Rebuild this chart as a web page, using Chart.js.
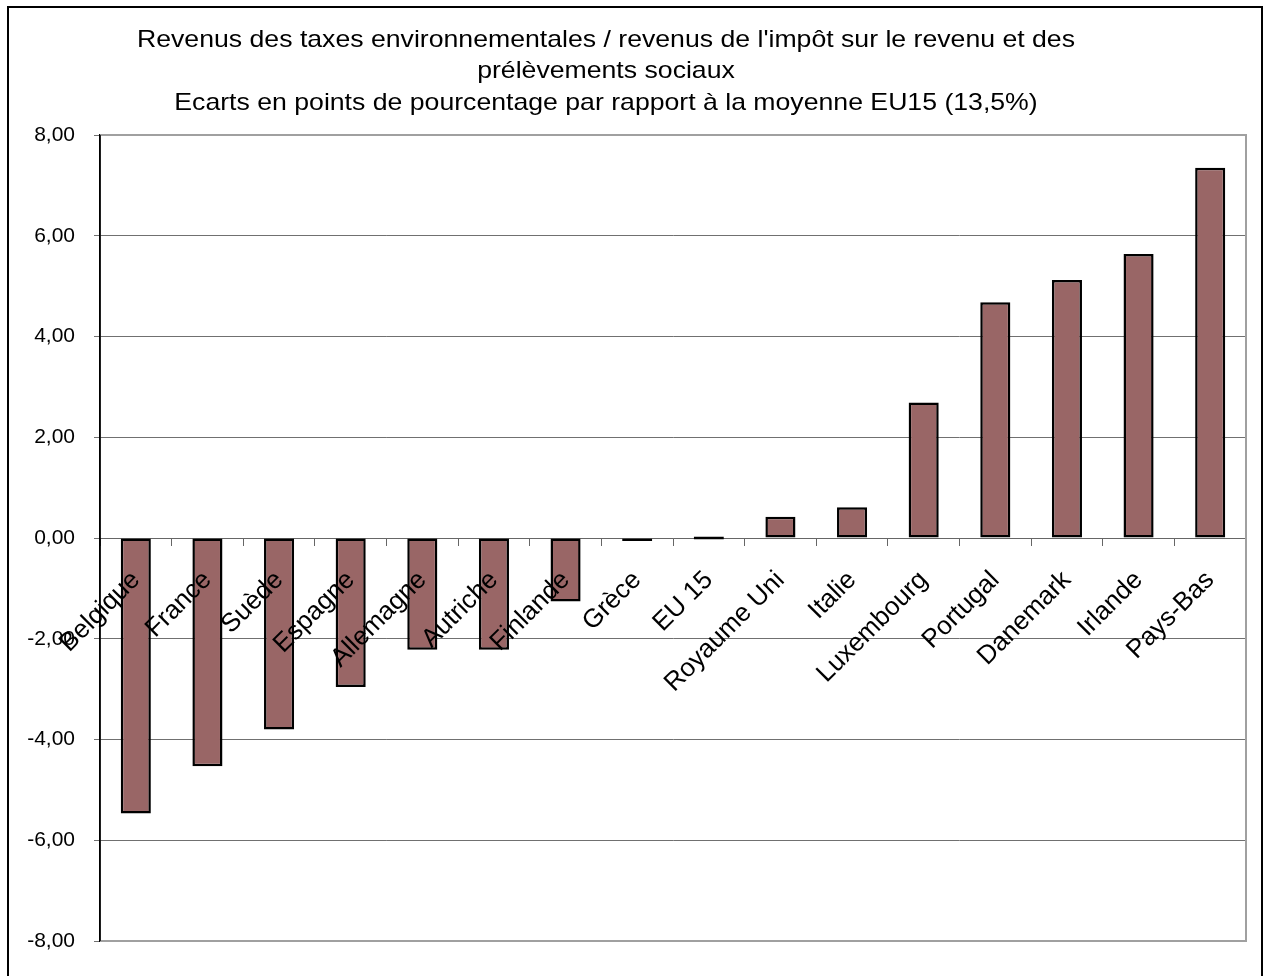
<!DOCTYPE html>
<html>
<head>
<meta charset="utf-8">
<script src="https://cdn.jsdelivr.net/npm/chart.js@4"></script>
<style>
  html, body { margin: 0; padding: 0; background: #fff; }
  #wrap { position: relative; width: 1269px; height: 976px; }
</style>
</head>
<body>
<div id="wrap"><canvas id="chart" width="1269" height="976"></canvas></div>
<script>
// ─── Data ─────────────────────────────────────────────────────────────
const countries = [
  "Belgique", "France", "Suède", "Espagne", "Allemagne", "Autriche", "Finlande", "Grèce",
  "EU 15", "Royaume Uni", "Italie", "Luxembourg", "Portugal", "Danemark", "Irlande", "Pays-Bas",
];
const ecarts = [
  -5.47, -4.53, -3.80, -2.96, -2.22, -2.22, -1.26, -0.04,
  0.00, 0.42, 0.61, 2.69, 4.68, 5.12, 5.64, 7.35,
];
const titleLines = [
  "Revenus des taxes environnementales / revenus de l'impôt sur le revenu et des",
  "prélèvements sociaux",
  "Ecarts en points de pourcentage par rapport à la moyenne EU15 (13,5%)",
];
const yMin = -8, yMax = 8, yStep = 2;

const FONT = "'Liberation Sans', Arial, sans-serif";

// ─── Plugins: outer frame, title, plot border ─────────────────────────
const framePlugin = {
  id: "frame",
  beforeDraw(chart) {
    const c = chart.ctx;
    c.save();
    c.fillStyle = "#fff";
    c.fillRect(0, 0, chart.width, chart.height);
    c.strokeStyle = "#000";
    c.lineWidth = 2;
    c.strokeRect(8, 7, 1254, 1000);
    c.restore();
  },
  afterDraw(chart) {
    const c = chart.ctx;
    const a = chart.chartArea;
    c.save();
    c.strokeStyle = "#a0a0a0";
    c.lineWidth = 2;
    c.beginPath();
    c.moveTo(a.left, a.top);
    c.lineTo(a.right, a.top);
    c.lineTo(a.right, a.bottom);
    c.lineTo(a.left, a.bottom);
    c.stroke();
    // left axis on top
    c.strokeStyle = "#000";
    c.lineWidth = 1.5;
    c.beginPath();
    c.moveTo(a.left, a.top);
    c.lineTo(a.left, a.bottom);
    c.stroke();
    // title (slightly widened like the original)
    c.fillStyle = "#000";
    c.font = "24px " + FONT;
    c.textAlign = "center";
    c.textBaseline = "middle";
    const ys = [40, 71, 103];
    titleLines.forEach((t, i) => {
      c.save();
      c.translate(606, ys[i]);
      c.scale(1.11, 1);
      c.fillText(t, 0, 0);
      c.restore();
    });
    c.restore();
  },
};

// ─── Chart ────────────────────────────────────────────────────────────
new Chart(document.getElementById("chart"), {
  type: "bar",
  data: {
    labels: countries,
    datasets: [{
      data: ecarts,
      backgroundColor: "#996666",
      borderColor: "#000",
      borderWidth: 2.5,
      borderSkipped: false,
      minBarLength: 3,
      barPercentage: 0.42,
      categoryPercentage: 1,
    }],
  },
  options: {
    responsive: false,
    animation: false,
    layout: { padding: { left: 0, right: 23, top: 135, bottom: 35 } },
    plugins: { legend: { display: false }, tooltip: { enabled: false }, title: { display: false } },
    scales: {
      x: {
        position: { y: 0 },
        grid: { drawOnChartArea: false, drawTicks: true, tickLength: 7, color: "#666", offset: true },
        border: { color: "#666", width: 1 },
        ticks: {
          z: 1, // labels drawn over the bars, as in the original
          autoSkip: false,
          minRotation: 45,
          maxRotation: 45,
          padding: 20,
          color: "#000",
          font: { family: FONT, size: 26 },
        },
      },
      y: {
        min: yMin,
        max: yMax,
        afterFit(scale) { scale.width = 100; },
        grid: {
          color: "#707070",
          lineWidth: 1,
          tickLength: 6,
          drawTicks: true,
        },
        border: { color: "#000", width: 1.5 },
        ticks: {
          stepSize: yStep,
          padding: 19,
          color: "#000",
          font: { family: FONT, size: 21 },
          callback: (v) => v.toFixed(2).replace(".", ","),
        },
      },
    },
  },
  plugins: [framePlugin],
});
</script>
</body>
</html>
